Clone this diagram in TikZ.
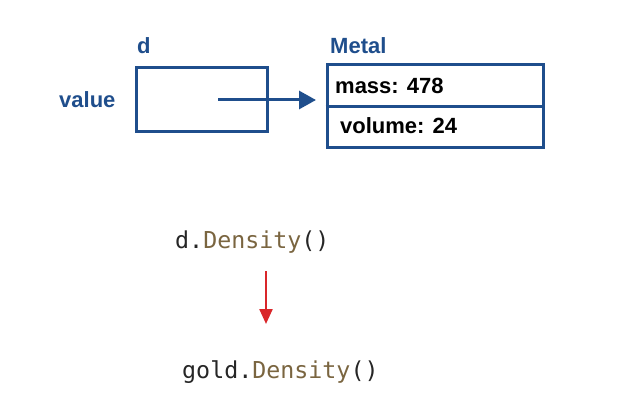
\documentclass[tikz,border=0pt]{standalone}
\usepackage{fontspec}
\setmainfont{Liberation Sans}
\setmonofont{DejaVu Sans Mono}
\usetikzlibrary{arrows.meta}
\definecolor{bl}{HTML}{1F4E8C}
\definecolor{brn}{HTML}{7A6540}
\definecolor{rd}{HTML}{D9262A}
\begin{document}
\begin{tikzpicture}[x=1pt,y=-1pt,
  lbl/.style={font=\fontsize{22}{24}\selectfont\bfseries, text=bl, inner sep=0pt},
  fld/.style={font=\fontsize{22}{24}\selectfont\bfseries, text=black, inner sep=0pt, anchor=west},
  boxs/.style={draw=bl, line width=3pt},
  code/.style={font=\fontsize{23.3}{25}\selectfont\ttfamily, text=black!85, inner sep=0pt, anchor=west}]
\useasboundingbox (0,0) rectangle (638,420);
\node[boxs, minimum width=131pt, minimum height=64pt, inner sep=0pt] (dbox) at (201.5,100) {};
\node[lbl, anchor=base west] (dlab) at (137,54) {d};
\node[lbl, anchor=base west] (vlab) at (59,108) {value};
\node[boxs, minimum width=216pt, minimum height=82pt, inner sep=0pt] (mbox) at (435,106) {};
\draw[draw=bl, line width=3pt] (mbox.west |- 0,107) -- (mbox.east |- 0,107);
\node[lbl, anchor=base west] (mlab) at (330,54) {Metal};
\node[fld, anchor=base west] (mass) at (335,94) {mass: 478};
\node[fld, anchor=base west] (vol) at (340,134) {volume: 24};
\coordinate (astart) at (218,100);
\coordinate (aend) at (316,100);
\draw[bl, line width=3pt, -{Triangle[length=17pt,width=18pt]}] (astart) -- (aend);
\node[code, anchor=base west] (c1) at (175,248) {d.\textcolor{brn}{Density}()};
\node[code, anchor=base west] (c2) at (182,378) {gold.\textcolor{brn}{Density}()};
\coordinate (r1) at (266,271);
\coordinate (r2) at (266,324);
\draw[rd, line width=2.3pt, -{Triangle[length=15pt,width=13pt]}] (r1) -- (r2);
\end{tikzpicture}
\end{document}
